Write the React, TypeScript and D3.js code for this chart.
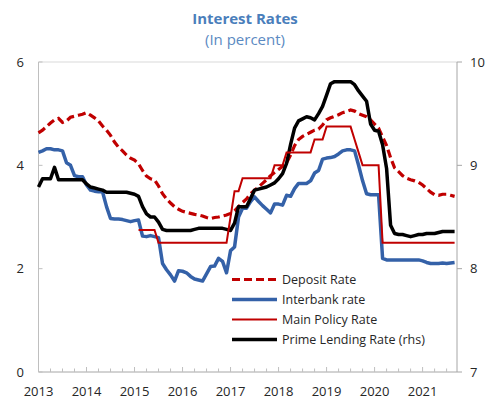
import React from 'react'
import * as d3 from 'd3'

// monthly, Jan 2013 .. Sep 2021
const yearLabels = ['2013', '2014', '2015', '2016', '2017', '2018', '2019', '2020', '2021']
const leftTicks = [0, 2, 4, 6]
const rightTicks = [7, 8, 9, 10]

const deposit = [
  4.63, 4.68, 4.75, 4.82, 4.88, 4.91, 4.83, 4.86, 4.93, 4.95, 4.97, 4.99,
  5.02, 4.97, 4.92, 4.86, 4.76, 4.68, 4.58, 4.45, 4.35, 4.28, 4.2, 4.14,
  4.1, 4.03, 3.9, 3.79, 3.74, 3.72, 3.6, 3.45, 3.35, 3.27, 3.2, 3.15,
  3.11, 3.09, 3.07, 3.05, 3.04, 3.02, 2.99, 2.97, 2.99, 3.0, 3.02, 3.04,
  3.07, 3.12, 3.2, 3.28, 3.35, 3.45, 3.52, 3.58, 3.65, 3.72, 3.8, 3.86,
  3.92, 3.98, 4.05, 4.2, 4.38, 4.5, 4.56, 4.6, 4.64, 4.68, 4.7, 4.78,
  4.88, 4.92, 4.95, 4.98, 5.02, 5.04, 5.07, 5.05, 5.0, 4.97, 4.94, 4.88,
  4.8, 4.72, 4.55, 4.38, 4.15, 3.95, 3.88, 3.8, 3.75, 3.72, 3.7, 3.67,
  3.62, 3.55, 3.48, 3.43, 3.42, 3.44, 3.44, 3.42, 3.4
]

const interbank = [
  4.25, 4.28, 4.32, 4.32, 4.3, 4.3, 4.28, 4.05, 4.0, 3.8, 3.78, 3.78,
  3.62, 3.52, 3.5, 3.49, 3.49, 3.2, 2.97, 2.96, 2.96, 2.95, 2.93, 2.91,
  2.93, 2.94, 2.63, 2.62, 2.64, 2.62, 2.6, 2.1, 1.98, 1.88, 1.76, 1.96,
  1.95, 1.92, 1.85, 1.8, 1.78, 1.76, 1.9, 2.04, 2.05, 2.2, 2.14, 1.92,
  2.35, 2.42, 3.0, 3.17, 3.17, 3.3, 3.39, 3.3, 3.22, 3.15, 3.08, 3.25,
  3.25, 3.23, 3.42, 3.4, 3.55, 3.65, 3.65, 3.65, 3.7, 3.85, 3.9, 4.12,
  4.14, 4.15, 4.17, 4.22, 4.28, 4.3, 4.3, 4.28, 4.0, 3.7, 3.45, 3.43,
  3.43, 3.43, 2.2, 2.17, 2.17, 2.17, 2.17, 2.17, 2.17, 2.17, 2.17, 2.17,
  2.15, 2.12, 2.1, 2.1, 2.1, 2.11, 2.1, 2.11, 2.12
]

// main policy rate starts in Feb 2015
const policyStart = 25
const policy = [
  2.75, 2.75, 2.75, 2.75, 2.75, 2.5, 2.5, 2.5, 2.5, 2.5, 2.5, 2.5,
  2.5, 2.5, 2.5, 2.5, 2.5, 2.5, 2.5, 2.5, 2.5, 2.5, 2.5, 3.0,
  3.5, 3.5, 3.75, 3.75, 3.75, 3.75, 3.75, 3.75, 3.75, 3.75, 4.0, 4.0,
  4.0, 4.25, 4.25, 4.25, 4.25, 4.25, 4.25, 4.25, 4.5, 4.5, 4.5, 4.75,
  4.75, 4.75, 4.75, 4.75, 4.75, 4.75, 4.5, 4.25, 4.0, 4.0, 4.0, 4.0,
  4.0, 2.5, 2.5, 2.5, 2.5, 2.5, 2.5, 2.5, 2.5, 2.5, 2.5, 2.5,
  2.5, 2.5, 2.5, 2.5, 2.5, 2.5, 2.5, 2.5
]

// right hand scale
const prime = [
  8.79, 8.87, 8.87, 8.87, 8.98, 8.86, 8.86, 8.86, 8.86, 8.86, 8.86, 8.86,
  8.82, 8.79, 8.78, 8.77, 8.76, 8.74, 8.74, 8.74, 8.74, 8.74, 8.74, 8.73,
  8.72, 8.7, 8.6, 8.53, 8.5, 8.5, 8.45, 8.38, 8.37, 8.37, 8.37, 8.37,
  8.37, 8.37, 8.37, 8.38, 8.39, 8.39, 8.39, 8.39, 8.39, 8.39, 8.39, 8.38,
  8.37, 8.44, 8.6, 8.6, 8.6, 8.68, 8.76, 8.77, 8.78, 8.79, 8.81, 8.83,
  8.87, 8.92, 9.02, 9.2, 9.36, 9.43, 9.45, 9.47, 9.46, 9.44, 9.5, 9.57,
  9.68, 9.79, 9.81, 9.81, 9.81, 9.81, 9.81, 9.78, 9.72, 9.67, 9.62, 9.4,
  9.34, 9.33, 9.2, 8.97, 8.42, 8.34, 8.33, 8.33, 8.32, 8.31, 8.32, 8.33,
  8.33, 8.34, 8.34, 8.34, 8.35, 8.36, 8.36, 8.36, 8.36
]

const legendItems = [
  { label: 'Deposit Rate', color: '#c00000', width: 3.2, dash: '8,4' },
  { label: 'Interbank rate', color: '#3461a8', width: 3.5, dash: null },
  { label: 'Main Policy Rate', color: '#c00000', width: 2, dash: null },
  { label: 'Prime Lending Rate (rhs)', color: '#000000', width: 3.5, dash: null }
]

const font = "'Open Sans', 'Noto Sans', sans-serif"
const textColor = '#262626'

export default function App () {
  const width = 491
  const height = 406
  const left = 38.5
  const right = 457
  const top = 62
  const bottom = 372

  const x = d3.scaleLinear().domain([0, 104.6]).range([left, right])
  const yL = d3.scaleLinear().domain([0, 6]).range([bottom, top])
  const yR = d3.scaleLinear().domain([7, 10]).range([bottom, top])

  const lineL = d3.line<number>().x((d, i) => x(i)).y(d => yL(d))
  const linePolicy = d3.line<number>().x((d, i) => x(i + policyStart)).y(d => yL(d))
  const lineR = d3.line<number>().x((d, i) => x(i)).y(d => yR(d))

  const quarters = d3.range(0, 105, 3)

  return (
    <svg width={width} height={height} style={{ position: 'absolute', left: 0, top: 0 }} fontFamily={font}>
      <rect width={width} height={height} fill='#fff' />
      <text x={245} y={24} textAnchor='middle' fontSize={15} fontWeight='bold' fill='#4a7ebb'>Interest Rates</text>
      <text x={245} y={45} textAnchor='middle' fontSize={15} fill='#5b8ac2'>(In percent)</text>

      {/* frame */}
      <line x1={left} x2={right} y1={top} y2={top} stroke='#d9d9d9' />
      <line x1={left} x2={left} y1={top} y2={bottom} stroke='#bfbfbf' />
      <line x1={right} x2={right} y1={top} y2={bottom} stroke='#a6a6a6' />
      <line x1={left} x2={right} y1={bottom} y2={bottom} stroke='#a6a6a6' />

      {leftTicks.map((v, i) => (
        <g key={i}>
          <line x1={left} x2={left + 4} y1={yL(v)} y2={yL(v)} stroke='#bfbfbf' />
          <text x={24} y={yL(v)} dy='0.35em' textAnchor='end' fontSize={13} fill={textColor}>{v}</text>
        </g>
      ))}
      {rightTicks.map((v, i) => (
        <g key={i}>
          <line x1={right} x2={right + 5} y1={yR(v)} y2={yR(v)} stroke='#a6a6a6' />
          <text x={470} y={yR(v)} dy='0.35em' fontSize={13} fill={textColor}>{v}</text>
        </g>
      ))}
      {quarters.map(q => (
        <line key={q} x1={x(q)} x2={x(q)} y1={bottom} y2={bottom - (q % 12 === 0 ? 5 : 3.5)} stroke='#bfbfbf' />
      ))}
      {yearLabels.map((l, i) => (
        <text key={l} x={x(i * 12)} y={396} textAnchor='middle' fontSize={13} fill={textColor}>{l}</text>
      ))}

      <path d={lineL(interbank) || ''} fill='none' stroke='#3461a8' strokeWidth={3.5} strokeLinejoin='round' />
      <path d={lineL(deposit) || ''} fill='none' stroke='#c00000' strokeWidth={3.2} strokeDasharray='8,4' />
      <path d={lineR(prime) || ''} fill='none' stroke='#000' strokeWidth={3.5} strokeLinejoin='round' />
      <path d={linePolicy(policy) || ''} fill='none' stroke='#c00000' strokeWidth={2} />

      {legendItems.map((it, i) => {
        const ly = 279.5 + i * 20
        return (
          <g key={it.label}>
            <line x1={232} x2={277} y1={ly} y2={ly} stroke={it.color} strokeWidth={it.width} strokeDasharray={it.dash || undefined} />
            <text x={282} y={ly} dy='0.35em' fontSize={12.5} fill={textColor}>{it.label}</text>
          </g>
        )
      })}
    </svg>
  )
}
